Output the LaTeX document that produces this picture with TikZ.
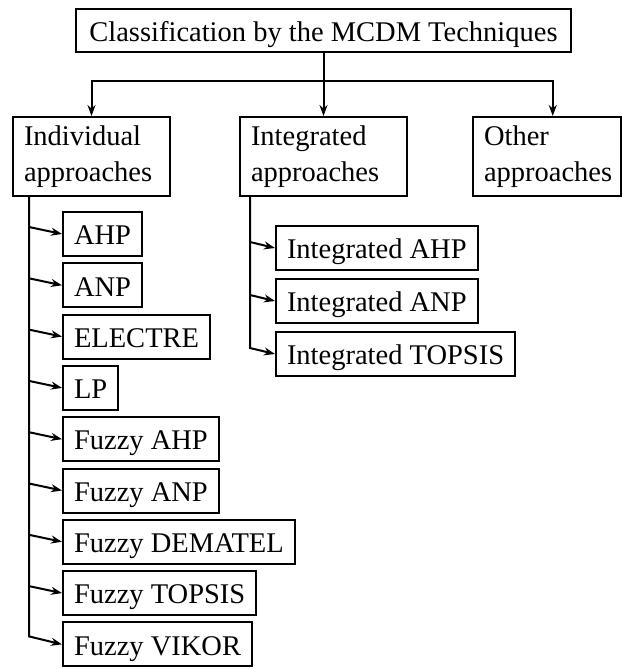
\documentclass[tikz,border=0pt]{standalone}
\usepackage{fontspec}
\setmainfont{Liberation Serif}
\usetikzlibrary{positioning, arrows.meta, calc}
\tikzset{
	>={Stealth[length=11pt, width=8pt]},
	every node/.style={font=\fontsize{28.5}{36}\selectfont},
	box/.style={draw, line width=2pt, inner xsep=11pt, inner ysep=0pt,
		minimum height=44pt, text height=24pt, text depth=2.5pt},
	leaf/.style={box, anchor=west},
	group/.style={draw, line width=2pt, align=left, inner xsep=11pt,
		inner ysep=0pt, minimum height=79pt, anchor=north west},
	link/.style={line width=2pt}}

\begin{document}
\begin{tikzpicture}[x=1pt, y=1pt]
		\useasboundingbox (0,0) rectangle (623,-669);
		
		%Top
		\node[box, inner xsep=13pt, minimum height=43pt] (root) at (323.5,-30.5) {Classification by the MCDM Techniques};
		
		%Groups
		\node[group, text width=135pt] (indiv) at (12,-116) {Individual\\approaches};
		\node[group, text width=145pt] (integ) at (239,-116) {Integrated\\approaches};
		\node[group, text width=125.5pt] (other) at (472,-116) {Other\\approaches};
		
		%Individual
		\node[leaf] (ahp) at (62,-234) {AHP};
		\node[leaf, below=5.3pt of ahp.south west, anchor=north west] (anp) {ANP};
		\node[leaf, below=5.3pt of anp.south west, anchor=north west] (electre) {ELECTRE};
		\node[leaf, below=5.3pt of electre.south west, anchor=north west] (lp) {LP};
		\node[leaf, below=5.3pt of lp.south west, anchor=north west] (fahp) {Fuzzy AHP};
		\node[leaf, below=5.3pt of fahp.south west, anchor=north west] (fanp) {Fuzzy ANP};
		\node[leaf, below=5.3pt of fanp.south west, anchor=north west] (fdematel) {Fuzzy DEMATEL};
		\node[leaf, below=5.3pt of fdematel.south west, anchor=north west] (ftopsis) {Fuzzy TOPSIS};
		\node[leaf, below=5.3pt of ftopsis.south west, anchor=north west] (fvikor) {Fuzzy VIKOR};
		
		%Integrated
		\node[leaf] (iahp) at (275,-248) {Integrated AHP};
		\node[leaf, below=7pt of iahp.south west, anchor=north west] (ianp) {Integrated ANP};
		\node[leaf, below=7pt of ianp.south west, anchor=north west] (itopsis) {Integrated TOPSIS};
		
		\coordinate (bus) at ($(root.south)+(0,-28)$);
		\coordinate (itrunk) at ($(indiv.south west)+(17,0)$);
		\coordinate (jtrunk) at ($(integ.south west)+(11,0)$);
		
		%Top level
		\draw[link] (root.south) -- (bus);
		\draw[link, ->] (bus) -| (indiv.north);
		\draw[link, ->] (bus) -- (integ.north);
		\draw[link, ->] (bus) -| ($(other.north)+(6,0)$);
		
		%Trunks
		\draw[link, ->] (itrunk) -- ($(itrunk |- fvikor.west)+(0,8)$) -- (fvikor.west);
		\draw[link, ->] (jtrunk) -- ($(jtrunk |- itopsis.west)+(0,6)$) -- (itopsis.west);
		
		\path[link]
		($(itrunk |- ahp.west)+(0,7)$) edge[->] (ahp.west)
		($(itrunk |- anp.west)+(0,7)$) edge[->] (anp.west)
		($(itrunk |- electre.west)+(0,7)$) edge[->] (electre.west)
		($(itrunk |- lp.west)+(0,7)$) edge[->] (lp.west)
		($(itrunk |- fahp.west)+(0,7)$) edge[->] (fahp.west)
		($(itrunk |- fanp.west)+(0,7)$) edge[->] (fanp.west)
		($(itrunk |- fdematel.west)+(0,7)$) edge[->] (fdematel.west)
		($(itrunk |- ftopsis.west)+(0,7)$) edge[->] (ftopsis.west)
		
		($(jtrunk |- iahp.west)+(0,6)$) edge[->] (iahp.west)
		($(jtrunk |- ianp.west)+(0,6)$) edge[->] (ianp.west)
		;
	\end{tikzpicture}
\end{document}
